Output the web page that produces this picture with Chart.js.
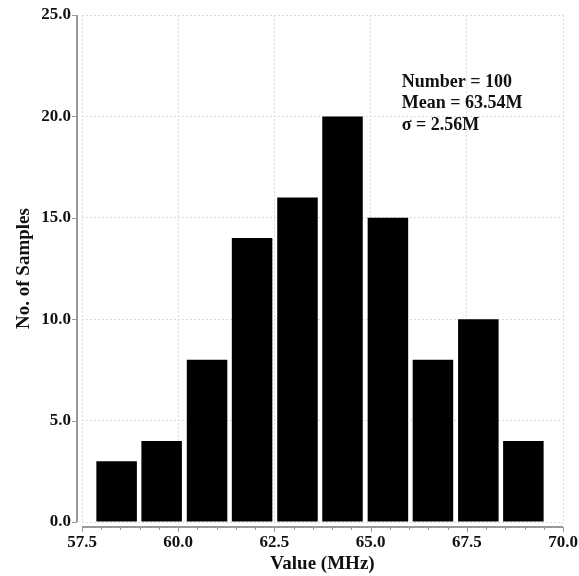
<!DOCTYPE html>
<html>
<head>
<meta charset="utf-8">
<script src="https://cdn.jsdelivr.net/npm/chart.js@4"></script>
<style>
  html, body { margin: 0; padding: 0; background: #fff; }
  #wrap { width: 579px; height: 576px; }
</style>
</head>
<body>
<div id="wrap"><canvas id="histChart" width="579" height="576"></canvas></div>
<script>
// bin centres (MHz) and counts
const binCenters = [58.40, 59.57, 60.75, 61.92, 63.10, 64.27, 65.45, 66.62, 67.80, 68.97];
const counts = [3, 4, 8, 14, 16, 20, 15, 8, 10, 4];
const statsLines = ['Number = 100', 'Mean = 63.54M', '\u03c3 = 2.56M'];

const FONT = '"Liberation Serif", "DejaVu Serif", serif';

// axes drawn a few px away from the plot area, like the original
const splitAxes = {
  id: 'splitAxes',
  afterDraw(chart) {
    const { ctx, chartArea: a, scales: { x, y } } = chart;
    const ax = a.left - 5, ay = a.bottom + 5;
    ctx.save();
    ctx.strokeStyle = '#999';
    ctx.lineWidth = 2;
    ctx.beginPath();
    ctx.moveTo(ax, a.top); ctx.lineTo(ax, a.bottom);
    ctx.moveTo(a.left, ay); ctx.lineTo(a.right, ay);
    ctx.stroke();

    ctx.lineWidth = 1;
    ctx.beginPath();
    y.ticks.forEach(t => {
      const p = Math.round(y.getPixelForValue(t.value)) + 0.5;
      ctx.moveTo(ax, p); ctx.lineTo(ax - 5, p);
    });
    for (let v = x.min; v <= x.max + 1e-6; v += 0.5) {
      const p = Math.round(x.getPixelForValue(v)) + 0.5;
      const major = Math.abs(v / 2.5 - Math.round(v / 2.5)) < 1e-6;
      ctx.moveTo(p, ay); ctx.lineTo(p, ay + (major ? 5 : 3));
    }
    ctx.stroke();

    // stats box
    ctx.fillStyle = '#111';
    ctx.font = 'bold 18px ' + FONT;
    ctx.textBaseline = 'middle';
    ctx.textAlign = 'left';
    const tx = x.getPixelForValue(65.81);
    const ty = y.getPixelForValue(21.7);
    statsLines.forEach((s, i) => ctx.fillText(s, tx, ty + i * 21.5));
    ctx.restore();
  }
};

new Chart(document.getElementById('histChart'), {
  type: 'bar',
  data: {
    datasets: [{
      data: binCenters.map((c, i) => ({ x: c, y: counts[i] })),
      backgroundColor: '#000',
      borderWidth: 0,
      barPercentage: 0.9,
      categoryPercentage: 1.0
    }]
  },
  options: {
    responsive: false,
    animation: false,
    devicePixelRatio: 1,
    layout: { padding: { left: 0, top: 15, right: 16, bottom: 0 } },
    plugins: { legend: { display: false }, tooltip: { enabled: false } },
    scales: {
      x: {
        type: 'linear',
        min: 57.5,
        max: 70,
        offset: false,
        afterFit(s) { s.height = 54; s.paddingLeft = 0; s.paddingRight = 0; },
        grid: { offset: false, color: '#dcdcdc', drawTicks: false },
        border: { display: false, dash: [2, 2] },
        ticks: {
          stepSize: 2.5,
          padding: 10,
          color: '#111',
          font: { family: FONT, size: 17, weight: 'bold' },
          callback: v => v.toFixed(1)
        },
        title: {
          display: true,
          text: 'Value (MHz)',
          color: '#111',
          font: { family: FONT, size: 19, weight: 'bold' },
          padding: { top: 0, bottom: 1 }
        }
      },
      y: {
        min: 0,
        max: 25,
        afterFit(s) { s.width = 82; s.paddingTop = 0; s.paddingBottom = 0; },
        grid: { color: '#dcdcdc', drawTicks: false },
        border: { display: false, dash: [2, 2] },
        ticks: {
          stepSize: 5,
          padding: 11,
          color: '#111',
          font: { family: FONT, size: 17, weight: 'bold' },
          callback: v => v.toFixed(1)
        },
        title: {
          display: true,
          text: 'No. of Samples',
          color: '#111',
          font: { family: FONT, size: 19, weight: 'bold' },
          padding: { top: 13, bottom: 0 }
        }
      }
    }
  },
  plugins: [splitAxes]
});
</script>
</body>
</html>
